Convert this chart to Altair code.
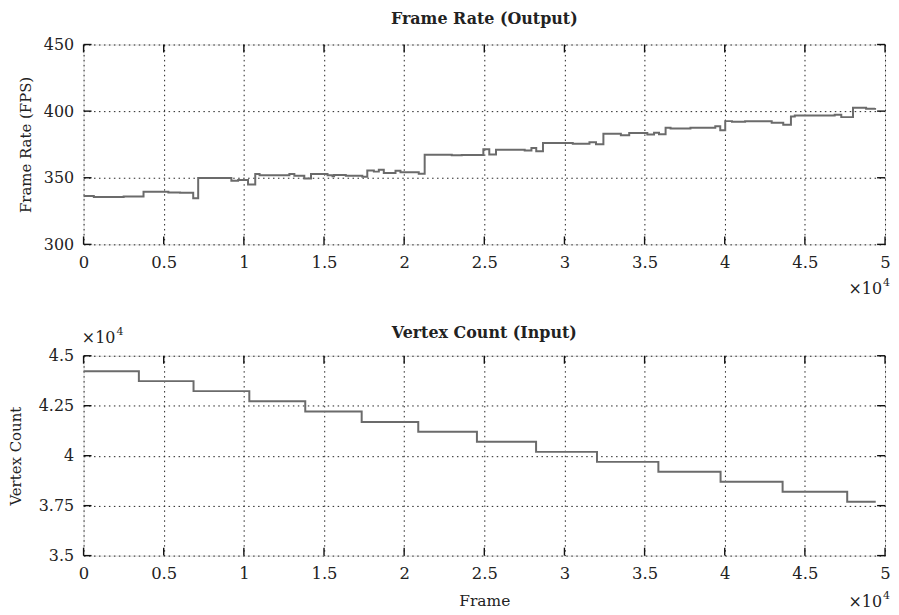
import altair as alt
import pandas as pd

FONT = "DejaVu Serif"
W, H = 806, 201

# ---- data -------------------------------------------------------------
fps_frame = [0, 640, 2500, 3740, 5290, 6020, 6840, 7150, 9220, 9640, 10260, 10710,
             10980, 12840, 13150, 13770, 14190, 15220, 15530, 15630, 16360, 17390,
             17700, 18110, 18420, 18730, 19460, 19770, 20910, 21280, 22970, 23590,
             24940, 25310, 25730, 27520, 27940, 28240, 28660, 30520, 31560, 31970,
             32430, 33520, 34040, 35170, 35590, 35900, 36310, 36620, 37860, 39410,
             39720, 40030, 40450, 41270, 42930, 43650, 44130, 44370, 46860, 47270,
             48000, 48820, 49380]
fps_value = [336.3, 335.6, 336.0, 339.5, 339.0, 338.7, 334.6, 349.8, 347.8, 348.3, 345.0, 352.8,
             351.9, 352.8, 351.5, 349.5, 352.8, 351.9, 351.2, 352.0, 351.5, 350.7,
             355.5, 354.6, 356.0, 353.5, 355.3, 354.2, 353.0, 367.2, 366.9, 367.1,
             371.4, 367.4, 371.1, 370.4, 372.4, 369.9, 376.1, 375.6, 376.6, 375.1,
             383.1, 381.9, 383.6, 382.4, 383.8, 382.7, 387.6, 387.0, 387.6, 388.6,
             385.6, 392.5, 392.0, 392.4, 391.3, 389.8, 396.0, 396.8, 397.3, 395.5,
             402.5, 401.8, 402.3]

vc_frame = [0, 3450, 6860, 10340, 13830, 17350, 20880, 24540, 28230, 32030, 35860,
            39740, 43610, 47640, 49420]
vc_value = [44220, 43730, 43230, 42720, 42210, 41690, 41200, 40700, 40190, 39690, 39200,
            38700, 38190, 37690, 37690]

x_ticks = [0, 5000, 10000, 15000, 20000, 25000, 30000, 35000, 40000, 45000, 50000]
fps_ticks = [300, 350, 400, 450]
vc_ticks = [35000, 37500, 40000, 42500, 45000]

titles = ["Frame Rate (Output)", "Vertex Count (Input)"]
y_titles = ["Frame Rate (FPS)", "Vertex Count"]
x_title = "Frame"

fps_df = pd.DataFrame({"frame": fps_frame, "value": fps_value})
vc_df = pd.DataFrame({"frame": vc_frame, "value": vc_value})

LINE_COLOR = "#6b6b6b"
TEXT = "#222222"
GRID = dict(grid=True, gridDash=[1.5, 3.5], gridColor="#222222", gridWidth=1, gridOpacity=1)


def panel(df, ydomain, yticks, ytitle, xtitle, ylabel_expr, ytitle_pad):
    xscale = alt.Scale(domain=[0, 50000], nice=False, zero=False)
    yscale = alt.Scale(domain=ydomain, nice=False, zero=False)
    xaxis = alt.Axis(values=x_ticks, labelExpr="datum.value / 10000", ticks=False, domain=False,
                     labelFont=FONT, labelFontSize=16.5, labelColor=TEXT, labelPadding=10,
                     labelFlush=False, labelOverlap=False,
                     title=xtitle, titleFont=FONT, titleFontSize=15.5, titleFontWeight="normal",
                     titleColor=TEXT, titlePadding=12, **GRID)
    yaxis = alt.Axis(values=yticks, labelExpr=ylabel_expr, ticks=False, domain=False,
                     labelFont=FONT, labelFontSize=16, labelColor=TEXT, labelPadding=10,
                     labelFlush=False, labelOverlap=False, minExtent=44, maxExtent=44,
                     title=ytitle, titleFont=FONT, titleFontSize=15, titleFontWeight="normal",
                     titleColor=TEXT, titlePadding=ytitle_pad, **GRID)

    line = alt.Chart(df).mark_line(interpolate="step-after", color=LINE_COLOR,
                                   strokeWidth=2).encode(
        x=alt.X("frame:Q", scale=xscale, axis=xaxis),
        y=alt.Y("value:Q", scale=yscale, axis=yaxis),
    )
    xt = pd.DataFrame({"frame": x_ticks})
    yt = pd.DataFrame({"value": yticks})
    tick_style = dict(color="#111", strokeWidth=1.4)
    xb = alt.Chart(xt).mark_rule(**tick_style).encode(
        x=alt.X("frame:Q", scale=xscale, axis=xaxis), y=alt.value(H), y2=alt.value(H - 8))
    xtp = alt.Chart(xt).mark_rule(**tick_style).encode(
        x=alt.X("frame:Q", scale=xscale, axis=xaxis), y=alt.value(0), y2=alt.value(8))
    yl = alt.Chart(yt).mark_rule(**tick_style).encode(
        y=alt.Y("value:Q", scale=yscale, axis=yaxis), x=alt.value(0), x2=alt.value(8))
    yr = alt.Chart(yt).mark_rule(**tick_style).encode(
        y=alt.Y("value:Q", scale=yscale, axis=yaxis), x=alt.value(W), x2=alt.value(W - 8))
    return [line, xb, xtp, yl, yr]


def title_text(label, ypos):
    d = pd.DataFrame({"t": [label]})
    return alt.Chart(d).mark_text(font=FONT, fontSize=16, fontWeight="bold", color=TEXT,
                                  align="center", baseline="alphabetic").encode(
        text="t:N", x=alt.value(W / 2), y=alt.value(ypos))


def exp_label(xpos, ypos):
    base = pd.DataFrame({"t": ["×10"]})
    sup = pd.DataFrame({"t": ["4"]})
    a = alt.Chart(base).mark_text(font=FONT, fontSize=16, color=TEXT, align="right",
                                  baseline="alphabetic").encode(
        text="t:N", x=alt.value(xpos), y=alt.value(ypos))
    b = alt.Chart(sup).mark_text(font=FONT, fontSize=11, color=TEXT, align="left",
                                 baseline="alphabetic").encode(
        text="t:N", x=alt.value(xpos + 1), y=alt.value(ypos - 8))
    return [a, b]


top = alt.layer(
    *panel(fps_df, [300, 450], fps_ticks, y_titles[0], None, "datum.value", 6),
    title_text(titles[0], -21),
    *exp_label(W - 3, H + 50),
).properties(width=W, height=H)

bot = alt.layer(
    *panel(vc_df, [35000, 45000], vc_ticks, y_titles[1], x_title, "datum.value / 10000", 16),
    title_text(titles[1], -18),
    *exp_label(32, -13),
    *exp_label(W - 3, H + 52),
).properties(width=W, height=H)

chart = alt.vconcat(top, bot, spacing=26).properties(
    padding={"left": 0, "top": 0, "right": 0, "bottom": 0}
).configure_view(stroke="#111", strokeWidth=1.6).configure(background="white")

chart.save("out.html", embed_options={"renderer": "svg", "actions": False})
